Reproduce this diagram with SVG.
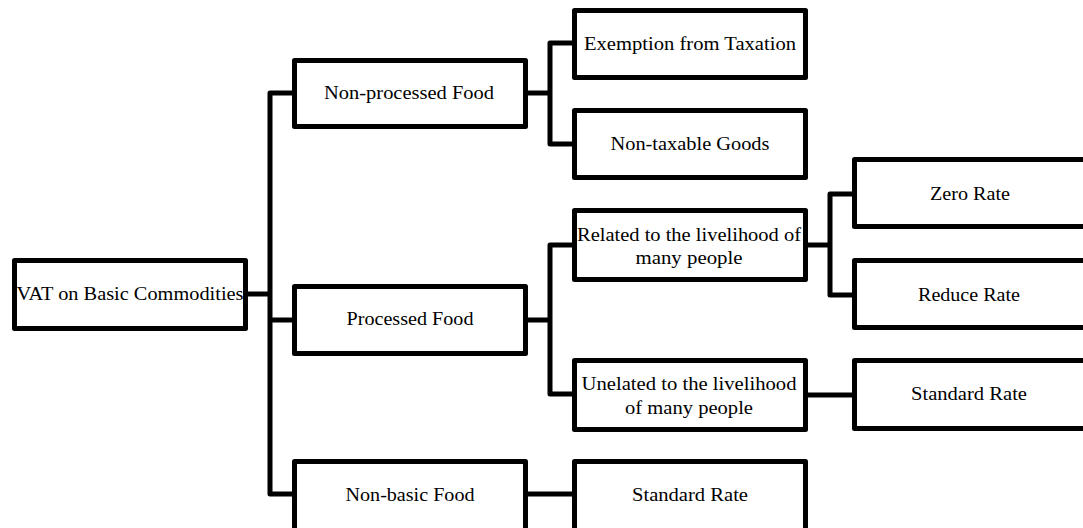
<svg xmlns="http://www.w3.org/2000/svg" width="1083" height="528" viewBox="0 0 1083 528">
<style>
.box{fill:#fff;stroke:#000;stroke-width:5;stroke-linejoin:round}
.t{font-family:"Liberation Serif","Times New Roman",serif;font-size:19px;fill:#000;text-anchor:middle}
.c{fill:none;stroke:#000;stroke-width:5;stroke-linejoin:round}
</style>
<rect width="1083" height="528" fill="#fff"/>
<g id="connectors">
<path class="c" d="M248 294H270M292 93H270V494H292M270 320H292"/>
<path class="c" d="M528 93H550M572 43H550V144H572"/>
<path class="c" d="M528 320H550M572 245H550V394H572"/>
<path class="c" d="M808 245H830M852 194H830V295H852"/>
<path class="c" d="M808 395H852"/>
<path class="c" d="M528 494H572"/>
</g>
<g id="root"><rect class="box" x="14.5" y="260.5" width="231" height="68"/><text class="t" x="130" y="300" textLength="227" lengthAdjust="spacingAndGlyphs">VAT on Basic Commodities</text></g>
<g id="nonprocessed"><rect class="box" x="294.5" y="60.5" width="231" height="66"/><text class="t" x="409" y="99" textLength="170" lengthAdjust="spacingAndGlyphs">Non-processed Food</text></g>
<g id="processed"><rect class="box" x="294.5" y="286.5" width="231" height="67"/><text class="t" x="410" y="325" textLength="127" lengthAdjust="spacingAndGlyphs">Processed Food</text></g>
<g id="nonbasic"><rect class="box" x="294.5" y="461.5" width="231" height="70"/><text class="t" x="410" y="501" textLength="129" lengthAdjust="spacingAndGlyphs">Non-basic Food</text></g>
<g id="exemption"><rect class="box" x="574.5" y="10.5" width="231" height="67"/><text class="t" x="690" y="50" textLength="212" lengthAdjust="spacingAndGlyphs">Exemption from Taxation</text></g>
<g id="nontaxable"><rect class="box" x="574.5" y="110.5" width="231" height="67"/><text class="t" x="690" y="150" textLength="159" lengthAdjust="spacingAndGlyphs">Non-taxable Goods</text></g>
<g id="related"><rect class="box" x="574.5" y="210.5" width="231" height="69"/><text class="t" x="689" y="241" textLength="224" lengthAdjust="spacingAndGlyphs">Related to the livelihood of</text><text class="t" x="689" y="264" textLength="107" lengthAdjust="spacingAndGlyphs">many people</text></g>
<g id="unrelated"><rect class="box" x="574.5" y="360.5" width="231" height="69"/><text class="t" x="689" y="390" textLength="215" lengthAdjust="spacingAndGlyphs">Unelated to the livelihood</text><text class="t" x="689" y="414" textLength="128" lengthAdjust="spacingAndGlyphs">of many people</text></g>
<g id="standard1"><rect class="box" x="574.5" y="461.5" width="231" height="70"/><text class="t" x="690" y="501" textLength="116" lengthAdjust="spacingAndGlyphs">Standard Rate</text></g>
<g id="zero"><rect class="box" x="854.5" y="159.5" width="234" height="67"/><text class="t" x="970" y="200" textLength="80" lengthAdjust="spacingAndGlyphs">Zero Rate</text></g>
<g id="reduce"><rect class="box" x="854.5" y="260.5" width="234" height="67"/><text class="t" x="969" y="301" textLength="102" lengthAdjust="spacingAndGlyphs">Reduce Rate</text></g>
<g id="standard2"><rect class="box" x="854.5" y="360.5" width="234" height="68"/><text class="t" x="969" y="400" textLength="116" lengthAdjust="spacingAndGlyphs">Standard Rate</text></g>
</svg>
